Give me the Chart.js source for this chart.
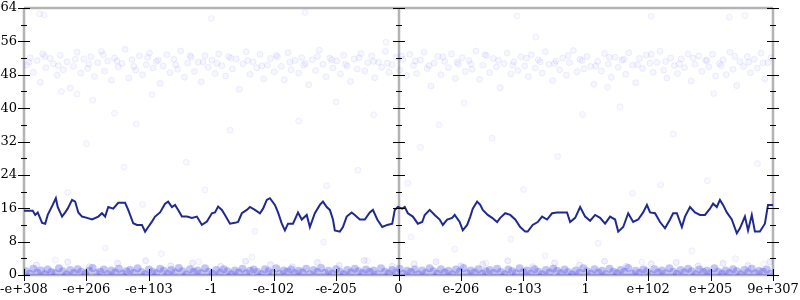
<!DOCTYPE html>
<html>
<head>
<meta charset="utf-8">
<script src="https://cdn.jsdelivr.net/npm/chart.js@4.4.1/dist/chart.umd.min.js"></script>
<style>
  html, body { margin: 0; padding: 0; background: #fff; }
  #wrap { width: 800px; height: 300px; }
</style>
</head>
<body>
<div id="wrap"><canvas id="plot"></canvas></div>
<script>
// tick labels along the x axis (flonum ordinal space), one per major tick
const xTickLabels = ['-e+308', '-e+206', '-e+103', '-1', '-e-102', '-e-205', '0',
  'e-206', 'e-103', '1', 'e+102', 'e+205', '9e+307'];
const yTicks = [0, 4, 8, 12, 16, 20, 24, 28, 32, 36, 40, 44, 48, 52, 56, 60, 64];

// running average line (x in tick units, y in bits)
const walkX = [0.00, 0.14, 0.18, 0.22, 0.29, 0.34, 0.38, 0.46, 0.51, 0.54, 0.61, 0.66, 0.70, 0.77, 0.82, 0.87,
  0.93, 1.01, 1.09, 1.19, 1.25, 1.30, 1.35, 1.43, 1.51, 1.62, 1.67, 1.75, 1.81, 1.89, 1.94, 1.99,
  2.05, 2.10, 2.18, 2.26, 2.31, 2.37, 2.42, 2.47, 2.53, 2.61, 2.69, 2.77, 2.85, 2.93, 3.01, 3.06,
  3.11, 3.17, 3.22, 3.30, 3.38, 3.43, 3.49, 3.57, 3.62, 3.70, 3.78, 3.83, 3.89, 3.94, 4.02, 4.07,
  4.13, 4.18, 4.23, 4.31, 4.39, 4.45, 4.53, 4.58, 4.66, 4.74, 4.79, 4.85, 4.90, 4.95, 4.98, 5.06,
  5.11, 5.17, 5.25, 5.30, 5.38, 5.46, 5.54, 5.59, 5.66, 5.74, 5.82, 5.90, 5.94, 5.99, 6.06, 6.10,
  6.15, 6.23, 6.31, 6.38, 6.42, 6.50, 6.58, 6.66, 6.71, 6.78, 6.86, 6.90, 6.98, 7.03, 7.10, 7.15,
  7.19, 7.26, 7.31, 7.35, 7.43, 7.50, 7.58, 7.63, 7.71, 7.79, 7.87, 7.95, 8.03, 8.07, 8.15, 8.23,
  8.30, 8.38, 8.46, 8.54, 8.62, 8.70, 8.75, 8.83, 8.91, 8.99, 9.07, 9.15, 9.23, 9.31, 9.39, 9.47,
  9.52, 9.60, 9.68, 9.76, 9.84, 9.92, 9.98, 10.03, 10.11, 10.19, 10.27, 10.35, 10.40, 10.46, 10.54, 10.59,
  10.67, 10.75, 10.83, 10.91, 10.99, 11.04, 11.10, 11.15, 11.20, 11.26, 11.34, 11.42, 11.47, 11.55, 11.60, 11.66,
  11.71, 11.79, 11.87, 11.92, 12.00];
const walkY = [15.4, 15.4, 14.4, 15.0, 12.5, 12.3, 14.4, 16.8, 18.4, 16.3, 14.0, 15.0, 15.9, 18.0, 17.6, 15.0,
  14.0, 13.7, 13.3, 14.0, 14.8, 14.0, 16.3, 15.9, 17.3, 17.3, 15.6, 12.4, 12.0, 12.0, 10.4, 11.5,
  12.8, 14.0, 15.0, 17.1, 17.6, 16.3, 16.8, 15.6, 14.0, 14.0, 13.7, 14.0, 12.0, 12.8, 14.8, 15.0,
  16.4, 15.6, 14.4, 12.3, 12.5, 12.7, 14.8, 15.6, 16.3, 15.6, 14.8, 15.9, 18.0, 18.4, 16.8, 15.0,
  12.3, 10.7, 12.3, 12.3, 15.0, 13.3, 14.4, 11.5, 14.8, 16.8, 17.6, 16.3, 15.6, 13.3, 10.7, 10.4,
  11.5, 14.0, 15.0, 14.4, 13.3, 13.3, 15.0, 15.6, 13.3, 11.5, 12.0, 12.3, 15.6, 16.3, 15.9, 16.3,
  14.8, 14.0, 12.3, 12.7, 14.4, 15.6, 14.4, 13.3, 12.0, 13.3, 13.7, 14.4, 12.7, 10.7, 12.0, 14.0,
  15.9, 17.6, 16.8, 15.6, 14.4, 13.7, 12.7, 13.7, 14.8, 14.4, 13.3, 11.5, 10.4, 10.4, 12.0, 12.7,
  14.0, 13.3, 14.8, 15.0, 15.0, 15.0, 12.7, 13.7, 16.3, 14.0, 13.0, 14.4, 13.7, 12.3, 14.0, 13.3,
  10.4, 11.5, 14.8, 12.7, 13.3, 15.0, 16.8, 15.0, 14.8, 12.7, 11.2, 13.3, 14.8, 14.8, 11.5, 14.0,
  16.3, 15.0, 14.4, 14.4, 15.9, 17.1, 16.3, 18.0, 16.8, 15.0, 13.3, 10.0, 11.2, 14.0, 10.7, 14.4,
  10.4, 10.4, 12.3, 16.8, 16.8];

// samples: the dense cloud near 48..54
const upperCloud = [
  [0.04,50.3],[0.10,52.1],[0.15,48.6],[0.21,51.4],[0.26,46.2],[0.30,53.0],[0.35,49.7],[0.42,51.9],[0.47,50.6],[0.53,47.9],[0.58,52.7],[0.63,49.2],[0.69,51.1],[0.74,44.8],[0.79,50.0],[0.85,53.4],[0.91,48.4],[0.96,51.8],
  [1.02,49.5],[1.07,52.3],[1.13,47.6],[1.18,50.9],[1.24,53.6],[1.29,48.9],[1.34,51.3],[1.40,46.7],[1.45,52.0],[1.51,49.9],[1.57,50.7],[1.62,54.1],[1.68,47.2],[1.73,51.6],[1.79,49.1],[1.85,52.5],[1.90,48.0],[1.96,50.4],
  [2.01,53.2],[2.07,49.6],[2.12,51.2],[2.18,45.9],[2.23,50.1],[2.29,52.8],[2.34,48.5],[2.40,51.7],[2.46,49.3],[2.51,53.7],[2.57,47.4],[2.62,50.8],[2.68,52.2],[2.73,48.8],[2.79,51.0],[2.84,46.3],[2.90,52.6],[2.95,49.8],
  [3.01,51.5],[3.06,48.3],[3.12,53.0],[3.17,50.2],[3.23,47.7],[3.28,52.4],[3.34,49.4],[3.40,51.8],[3.45,44.5],[3.51,50.6],[3.56,53.5],[3.62,48.1],[3.67,51.1],[3.73,49.7],[3.78,52.9],[3.84,47.0],[3.90,50.3],[3.95,51.9],
  [4.01,48.7],[4.06,52.3],[4.12,50.0],[4.17,46.8],[4.23,53.3],[4.28,49.2],[4.34,51.4],[4.40,48.4],[4.45,52.1],[4.51,50.7],[4.56,45.6],[4.62,51.6],[4.67,49.0],[4.73,53.9],[4.79,50.5],[4.84,47.5],[4.90,52.0],[4.95,49.6],
  [5.01,51.3],[5.07,48.2],[5.12,52.7],[5.18,50.1],[5.23,46.4],[5.29,51.8],[5.34,49.4],[5.40,53.1],[5.46,48.9],[5.51,50.9],[5.57,52.5],[5.62,47.3],[5.68,51.0],[5.73,49.8],[5.79,53.6],[5.85,48.6],[5.90,50.4],[5.96,52.2],
  [6.02,49.1],[6.07,51.7],[6.13,47.8],[6.18,52.9],[6.24,50.2],[6.29,48.3],[6.35,51.5],[6.41,53.4],[6.46,49.5],[6.52,45.3],[6.57,50.8],[6.63,52.4],[6.68,48.0],[6.74,51.2],[6.80,49.7],[6.85,53.0],[6.91,47.1],[6.96,50.6],
  [7.02,52.1],[7.07,48.8],[7.13,51.4],[7.18,49.3],[7.24,53.7],[7.30,46.9],[7.35,50.3],[7.41,52.6],[7.46,48.5],[7.52,51.9],[7.57,49.9],[7.63,44.9],[7.69,50.7],[7.74,53.2],[7.80,48.2],[7.85,51.1],[7.91,49.0],[7.96,52.3],
  [8.02,50.1],[8.08,47.6],[8.13,52.8],[8.19,49.6],[8.24,51.6],[8.30,48.4],[8.35,53.5],[8.41,50.5],[8.47,46.6],[8.52,51.3],[8.58,49.2],[8.63,52.0],[8.69,47.9],[8.74,50.9],[8.80,53.8],[8.86,48.7],[8.91,51.7],[8.97,49.4],
  [9.02,52.4],[9.08,50.0],[9.13,45.7],[9.19,51.2],[9.25,48.9],[9.30,53.1],[9.36,50.6],[9.41,47.4],[9.47,52.2],[9.52,49.8],[9.58,51.5],[9.64,48.1],[9.69,53.3],[9.75,50.3],[9.80,46.1],[9.86,51.9],[9.91,49.5],[9.97,52.7],
  [10.03,50.8],[10.08,48.6],[10.14,51.0],[10.19,53.6],[10.25,49.1],[10.30,47.2],[10.36,52.0],[10.42,50.2],[10.47,48.3],[10.53,51.8],[10.58,49.7],[10.64,53.0],[10.69,46.5],[10.75,50.5],[10.81,52.5],[10.86,48.8],[10.92,51.4],[10.97,49.9],
  [11.03,52.9],[11.08,47.7],[11.14,50.7],[11.20,51.6],[11.25,48.0],[11.31,53.4],[11.36,49.3],[11.42,45.4],[11.47,51.1],[11.53,50.0],[11.59,52.3],[11.64,48.5],[11.70,51.7],[11.75,49.6],[11.81,53.2],[11.87,47.0],[11.92,50.9],[11.97,52.1],
  [0.08,51.0],[0.33,52.4],[0.55,50.2],[0.82,51.7],[1.04,50.6],[1.27,52.8],[1.49,51.3],[1.76,50.0],[1.98,52.2],[2.15,51.5],[2.43,50.4],[2.66,52.6],[2.87,51.1],[3.09,50.7],[3.31,52.0],[3.58,51.4],[3.81,50.1],[4.04,52.7],
  [4.26,51.0],[4.48,50.3],[4.70,52.4],[4.93,51.6],[5.15,50.5],[5.37,52.1],[5.60,51.2],[5.82,50.8],[6.05,52.5],[6.27,51.3],[6.49,50.2],[6.71,52.3],[6.94,51.0],[7.16,50.6],[7.38,52.8],[7.60,51.5],[7.83,50.3],[8.05,52.0],
  [8.27,51.1],[8.50,50.7],[8.72,52.6],[8.94,51.4],[9.16,50.1],[9.38,52.2],[9.61,51.7],[9.83,50.4],[10.05,52.9],[10.28,51.2],[10.50,50.6],[10.72,52.0],[10.94,51.5],[11.17,50.2],[11.39,52.4],[11.61,51.0],[11.84,50.8]
];

// samples: sparse outliers between the two clusters
const sparseSamples = [
  [0.25,62.6],[0.32,62.4],[1.10,41.9],[0.60,44.0],[0.85,43.4],[1.45,38.8],[1.80,36.2],[2.05,43.2],[3.30,34.7],[2.60,27.0],
  [1.00,31.5],[4.40,36.9],[5.00,41.5],[5.35,25.1],[5.60,38.4],[6.35,30.6],[6.15,22.0],[7.05,41.2],[6.65,36.0],[7.50,32.8],
  [7.90,62.1],[8.20,57.0],[8.55,28.4],[8.95,38.5],[9.35,45.0],[9.55,40.3],[10.05,62.0],[10.40,33.8],[10.95,22.6],[11.30,61.8],
  [11.55,62.2],[11.75,26.7],[11.05,43.5],[3.00,61.5],[4.50,62.9],[5.80,55.8],[2.90,20.4],[0.70,19.8],[1.60,25.9],[9.75,19.6],
  [8.00,20.5],[4.85,21.4],[1.30,6.5],[2.20,5.1],[3.65,4.3],[4.80,7.9],[6.90,6.2],[8.35,4.6],[9.20,7.6],[10.70,5.8],
  [11.40,3.9],[0.50,3.6],[2.80,3.2],[5.50,3.4],[7.40,2.9],[9.90,3.1],[11.85,2.7],[3.70,10.5],[6.20,9.1],[1.90,16.9],
  [7.80,8.6],[10.20,21.6]
];

// samples: the dense band just above zero
const lowBand = [
  [0.03,0.9],[0.09,0.3],[0.15,1.5],[0.21,0.6],[0.27,1.1],[0.33,0.2],[0.38,1.3],[0.44,0.7],[0.50,0.4],[0.56,1.6],[0.62,0.9],[0.68,0.1],[0.74,1.2],[0.80,0.5],[0.86,1.4],[0.92,0.8],
  [0.98,0.3],[1.04,1.0],[1.10,1.7],[1.16,0.4],[1.22,0.8],[1.28,1.3],[1.34,0.2],[1.40,1.1],[1.46,0.6],[1.52,1.5],[1.58,0.3],[1.64,0.9],[1.70,1.2],[1.76,0.5],[1.82,1.6],[1.88,0.7],
  [1.94,0.2],[2.00,1.3],[2.06,0.8],[2.12,0.4],[2.18,1.5],[2.24,1.0],[2.30,0.3],[2.36,1.2],[2.42,0.6],[2.48,1.7],[2.54,0.9],[2.60,0.1],[2.66,1.4],[2.72,0.7],[2.78,1.1],[2.84,0.4],
  [2.90,1.6],[2.96,0.8],[3.02,0.3],[3.08,1.2],[3.14,0.5],[3.20,1.4],[3.26,0.9],[3.32,0.2],[3.38,1.1],[3.44,0.6],[3.50,1.5],[3.56,0.4],[3.62,1.0],[3.68,1.3],[3.74,0.7],[3.80,0.2],
  [3.86,1.4],[3.92,0.9],[3.98,0.5],[4.04,1.6],[4.10,0.3],[4.16,1.1],[4.22,0.8],[4.28,1.3],[4.34,0.4],[4.40,1.0],[4.46,0.6],[4.52,1.5],[4.58,0.2],[4.64,1.2],[4.70,0.7],[4.76,1.7],
  [4.82,0.5],[4.88,1.0],[4.94,0.3],[5.00,1.4],[5.06,0.8],[5.12,0.2],[5.18,1.2],[5.24,0.6],[5.30,1.5],[5.36,0.9],[5.42,0.4],[5.48,1.3],[5.54,0.7],[5.60,1.1],[5.66,0.2],[5.72,1.6],
  [5.78,0.8],[5.84,0.4],[5.90,1.2],[5.96,0.6],[6.02,1.5],[6.08,0.3],[6.14,1.0],[6.20,0.7],[6.26,1.3],[6.32,0.2],[6.38,1.1],[6.44,0.5],[6.50,1.6],[6.56,0.9],[6.62,0.3],[6.68,1.4],
  [6.74,0.6],[6.80,1.0],[6.86,0.2],[6.92,1.3],[6.98,0.8],[7.04,1.7],[7.10,0.4],[7.16,1.1],[7.22,0.6],[7.28,1.4],[7.34,0.3],[7.40,0.9],[7.46,1.2],[7.52,0.5],[7.58,1.5],[7.64,0.7],
  [7.70,0.2],[7.76,1.3],[7.82,0.9],[7.88,0.4],[7.94,1.6],[8.00,0.7],[8.06,1.1],[8.12,0.3],[8.18,1.4],[8.24,0.8],[8.30,0.2],[8.36,1.2],[8.42,0.6],[8.48,1.5],[8.54,1.0],[8.60,0.4],
  [8.66,1.3],[8.72,0.7],[8.78,0.1],[8.84,1.1],[8.90,0.5],[8.96,1.6],[9.02,0.9],[9.08,0.3],[9.14,1.4],[9.20,0.6],[9.26,1.0],[9.32,0.2],[9.38,1.5],[9.44,0.8],[9.50,0.4],[9.56,1.2],
  [9.62,0.7],[9.68,1.7],[9.74,0.3],[9.80,1.0],[9.86,0.5],[9.92,1.3],[9.98,0.9],[10.04,0.2],[10.10,1.4],[10.16,0.6],[10.22,1.1],[10.28,0.4],[10.34,1.6],[10.40,0.8],[10.46,0.3],[10.52,1.2],
  [10.58,0.6],[10.64,1.5],[10.70,0.9],[10.76,0.2],[10.82,1.3],[10.88,0.7],[10.94,1.0],[11.00,0.4],[11.06,1.6],[11.12,0.8],[11.18,0.3],[11.24,1.1],[11.30,0.5],[11.36,1.4],[11.42,0.9],[11.48,0.2],
  [11.54,1.2],[11.60,0.6],[11.66,1.5],[11.72,0.4],[11.78,1.0],[11.84,0.8],[11.90,1.3],[11.96,0.3]
];
const lowHalo = [
  [0.20,2.4],[0.70,3.1],[1.05,2.0],[1.50,2.8],[1.95,3.4],[2.35,2.2],[2.70,2.9],[3.15,2.1],[3.55,3.3],[3.95,2.5],[4.30,2.0],[4.70,3.0],[5.05,2.3],[5.45,3.5],[5.90,2.1],[6.25,2.7],
  [6.60,3.2],[7.00,2.2],[7.35,2.6],[7.75,3.4],[8.15,2.0],[8.50,2.9],[8.90,2.4],[9.30,3.3],[9.65,2.1],[10.05,2.7],[10.45,3.0],[10.80,2.2],[11.20,2.8],[11.60,2.3],[11.95,3.1]
];

const toPoints = (pairs) => pairs.map(p => ({ x: p[0], y: p[1] }));

// grey frame + zero line, then black ticks crossing each vertical axis
const framePlugin = {
  id: 'frame',
  beforeDatasetsDraw(chart) {
    const { ctx, chartArea: a, scales: { x } } = chart;
    ctx.save();
    ctx.strokeStyle = '#b3b3b3';
    ctx.lineWidth = 2.5;
    ctx.beginPath();
    [0, 6, 12].forEach(v => {
      const px = Math.round(x.getPixelForValue(v));
      ctx.moveTo(px, a.top); ctx.lineTo(px, a.bottom);
    });
    ctx.moveTo(a.left, a.top); ctx.lineTo(a.right, a.top);
    ctx.moveTo(a.left, a.bottom); ctx.lineTo(a.right, a.bottom);
    ctx.stroke();
    ctx.restore();
  },
  afterDatasetsDraw(chart) {
    const { ctx, chartArea: a, scales: { x, y } } = chart;
    ctx.save();
    ctx.strokeStyle = '#000';
    ctx.lineWidth = 1;
    ctx.beginPath();
    [0, 6, 12].forEach(v => {
      const px = Math.round(x.getPixelForValue(v));
      yTicks.forEach(t => {
        const py = Math.round(y.getPixelForValue(t)) + 0.5;
        const len = t % 8 === 0 ? 6 : 3;
        ctx.moveTo(px - len, py); ctx.lineTo(px + len, py);
      });
    });
    xTickLabels.forEach((lab, i) => {
      const px = Math.round(x.getPixelForValue(i)) + 0.5;
      ctx.moveTo(px, a.bottom - 6); ctx.lineTo(px, a.bottom + 6);
    });
    ctx.stroke();
    ctx.restore();
  }
};

const tickFont = { family: 'DejaVu Serif', size: 13 };
const faint = (a) => `rgba(70,70,255,${a})`;

new Chart(document.getElementById('plot'), {
  type: 'scatter',
  data: {
    datasets: [
      {
        type: 'line',
        data: walkX.map((v, i) => ({ x: v, y: walkY[i] })),
        borderColor: '#1f2a8e',
        borderWidth: 2,
        pointRadius: 0,
        tension: 0,
        order: 0
      },
      {
        data: toPoints(upperCloud),
        pointRadius: 3,
        backgroundColor: faint(0.05),
        borderColor: faint(0.08),
        borderWidth: 1,
        order: 1
      },
      {
        data: toPoints(sparseSamples),
        pointRadius: 3,
        backgroundColor: faint(0.04),
        borderColor: faint(0.07),
        borderWidth: 1,
        order: 2
      },
      {
        data: toPoints(lowHalo),
        pointRadius: 3,
        backgroundColor: faint(0.08),
        borderColor: faint(0.12),
        borderWidth: 1,
        order: 3
      },
      {
        data: toPoints(lowBand),
        pointRadius: 4,
        backgroundColor: 'rgba(60,60,230,0.3)',
        borderWidth: 0,
        order: 4
      }
    ]
  },
  options: {
    responsive: true,
    maintainAspectRatio: false,
    animation: false,
    events: [],
    layout: { padding: { left: 0, right: 27, top: 8, bottom: 0 } },
    plugins: { legend: { display: false }, tooltip: { enabled: false } },
    scales: {
      x: {
        type: 'linear',
        min: 0,
        max: 12,
        afterFit: (s) => { s.height = 25; s.paddingLeft = 0; s.paddingRight = 0; },
        grid: { display: false, drawTicks: false },
        border: { display: false },
        ticks: {
          stepSize: 1,
          autoSkip: false,
          maxRotation: 0,
          padding: 7,
          color: '#000',
          font: tickFont,
          callback: (v) => xTickLabels[v]
        }
      },
      y: {
        min: 0,
        max: 64,
        afterFit: (s) => { s.width = 24; s.paddingTop = 0; s.paddingBottom = 0; },
        grid: { display: false, drawTicks: false },
        border: { display: false },
        ticks: { stepSize: 8, padding: 7, color: '#000', font: tickFont }
      }
    }
  },
  plugins: [framePlugin]
});
</script>
</body>
</html>
